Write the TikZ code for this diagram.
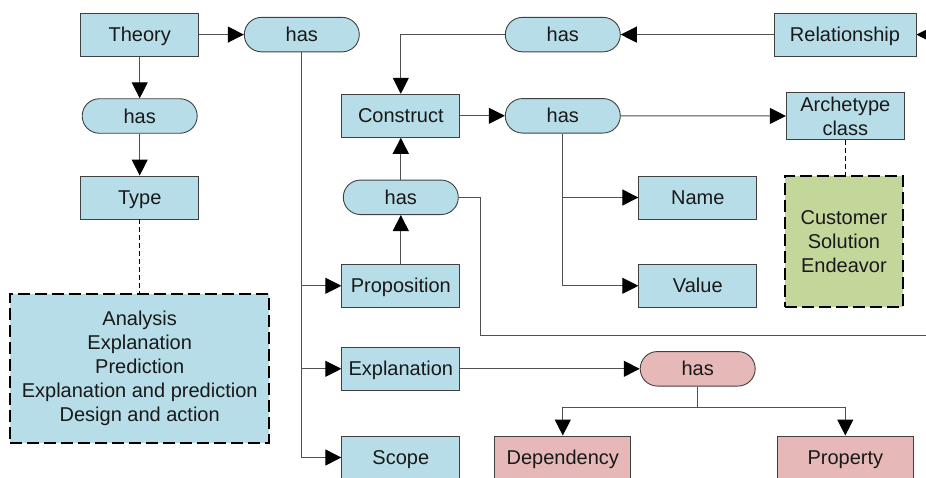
\documentclass[tikz,border=0pt]{standalone}
\usepackage{fontspec}
\setmainfont{Liberation Sans}
\usetikzlibrary{arrows.meta}
\definecolor{cblue}{RGB}{183,221,232}
\definecolor{cpink}{RGB}{230,185,184}
\definecolor{cgreen}{RGB}{196,215,155}
\definecolor{cborder}{RGB}{64,64,64}
\definecolor{cline}{RGB}{80,80,80}
\tikzset{
  base/.style={draw=cborder, line width=0.9pt, inner sep=0pt, align=center,
    font=\fontsize{20}{24}\selectfont, text=black!90},
  oneline/.style={text height=14.3pt, text depth=0pt},
  box/.style={base, oneline, fill=cblue, minimum width=118pt, minimum height=43pt},
  pbox/.style={base, oneline, fill=cpink, minimum width=136pt, minimum height=43pt},
  rel/.style={base, oneline, fill=cblue, minimum width=115pt, minimum height=34.5pt, rounded corners=17.2pt},
  prel/.style={rel, fill=cpink},
  note/.style={base, draw=black, line width=2.2pt, dash pattern=on 12pt off 5pt},
  conn/.style={draw=cline, line width=0.9pt},
  arr/.style={conn, -{Triangle[length=16pt,width=16pt,color=black]}},
  dconn/.style={draw=black, line width=0.9pt, dash pattern=on 5pt off 3pt},
}
\begin{document}
\begin{tikzpicture}[x=1pt,y=-1pt]
\useasboundingbox (0,0) rectangle (926,477);
\clip (0,0) rectangle (926,477);
% nodes
\node[box] (theory) at (139.7,34.6) {Theory};
\node[rel] (has1) at (301.8,34.6) {has};
\node[rel] (has2) at (139.7,116) {has};
\node[box] (type) at (139.7,197.5) {Type};
\node[note, fill=cblue, minimum width=258.7pt, minimum height=148.7pt] (analysis) at (139.7,368.3)
  {Analysis\\Explanation\\Prediction\\Explanation and prediction\\Design and action};
\node[box] (construct) at (400.8,115.8) {Construct};
\node[rel] (has3) at (400.8,197.3) {has};
\node[box] (prop) at (400.8,285.8) {Proposition};
\node[box] (expl) at (400.8,368.8) {Explanation};
\node[box] (scope) at (400.8,457.5) {Scope};
\node[rel] (has4) at (562.8,34.6) {has};
\node[box, minimum width=142pt] (relship) at (845,34.6) {Relationship};
\node[rel] (has5) at (562.8,115.8) {has};
\node[box, text height={}, text depth={}, minimum height=47.4pt] (arch) at (845.3,116) {Archetype\\class};
\node[box] (name) at (697.8,197.5) {Name};
\node[box] (value) at (697.8,285.8) {Value};
\node[note, fill=cgreen, minimum width=117.7pt, minimum height=131.6pt] (cust) at (843.9,241.5)
  {Customer\\Solution\\Endeavor};
\node[prel] (has6) at (697.7,368.8) {has};
\node[pbox] (dep) at (562.8,457.5) {Dependency};
\node[pbox] (property) at (845.3,457.5) {Property};
% free ends
\coordinate (relin) at (960,34.6);
\coordinate (bend) at (480,335.7);
\coordinate (out) at (960,335.7);
\coordinate (split) at (697.7,407);
% connectors
\draw[arr] (theory) -- (has1);
\draw[arr] (theory) -- (has2);
\draw[arr] (has2) -- (type);
\draw[dconn] (type) -- (analysis);
\draw[arr] (has1.south) |- (prop);
\draw[arr] (has1.south) |- (expl);
\draw[arr] (has1.south) |- (scope);
\draw[arr] (relin) -- (relship);
\draw[arr] (relship) -- (has4);
\draw[arr] (has4.west) -| (construct.north);
\draw[arr] (construct) -- (has5);
\draw[arr] (has5) -- (arch);
\draw[arr] (has5.south) |- (name);
\draw[arr] (has5.south) |- (value);
\draw[dconn] (arch.south) -- (arch.south |- cust.north);
\draw[arr] (prop) -- (has3);
\draw[arr] (has3) -- (construct);
\draw[conn] (has3.east) -| (bend) -- (out);
\draw[arr] (expl) -- (has6);
\draw[conn] (has6.south) -- (split);
\draw[arr] (split) -| (dep.north);
\draw[arr] (split) -| (property.north);
\end{tikzpicture}
\end{document}
